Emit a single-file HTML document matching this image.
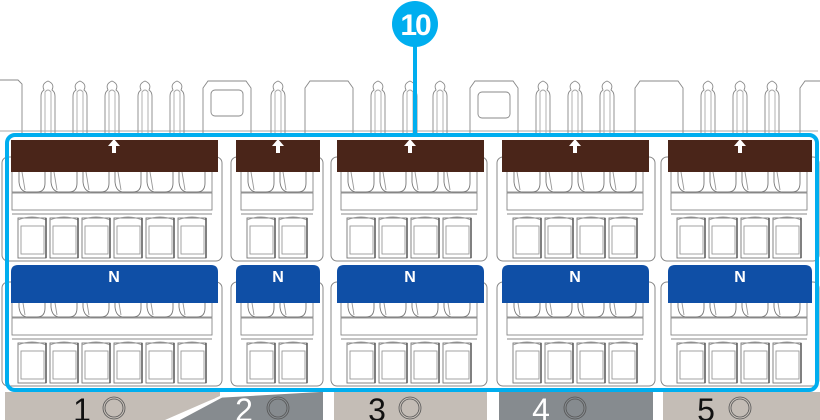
<!DOCTYPE html>
<html><head><meta charset="utf-8"><style>
html,body{margin:0;padding:0;background:#fff;}
svg{display:block}
text{font-family:"Liberation Sans",sans-serif;}
</style></head><body>
<svg width="820" height="420" viewBox="0 0 820 420" xmlns="http://www.w3.org/2000/svg">
<defs>
<g id="col" fill="none" stroke="#777" stroke-width="0.9">
  <path d="M3 24 V42 Q4 52 12 52 H21 Q29 52 29 43 V24"/>
  <path d="M5 26 L9 50" stroke="#999"/>
  <rect x="2" y="78" width="28" height="40" fill="#fff"/>
  <rect x="5" y="86" width="23" height="28" stroke="#999"/>
  <path d="M2 80 Q16 74 30 80" stroke="#999"/>
  <line x1="30" y1="78" x2="30" y2="118" stroke="#555" stroke-width="1.5"/>
</g>
<g id="fin" fill="none" stroke="#888" stroke-width="0.9">
  <path d="M-7 133 V96 Q-7 92 -4 90 Q-7 84 0 81 Q7 84 4 90 Q7 92 7 96 V133"/>
  <path d="M-3 133 V92 Q0 88 3 92 V133" stroke="#aaa"/>
</g>
<path id="arr" d="M0 -7 L-6 0 H-2 V7 H2 V0 H6 Z" fill="#fff"/>
</defs>

<g fill="none" stroke="#888" stroke-width="0.9">
  <path d="M0 80 H18 L22 84 V133"/>
  <line x1="0" y1="131" x2="818" y2="131" stroke="#aaa"/>
  <path d="M203 133 V88 L208 81 H246 L251 88 V133"/>
  <rect x="211" y="90" width="32" height="26" rx="4"/>
  <path d="M305 133 V88 L310 81 H348 L353 88 V133"/>
  <path d="M470 133 V88 L475 81 H513 L518 88 V133"/>
  <rect x="478" y="92" width="32" height="26" rx="4"/>
  <path d="M635 133 V88 L640 81 H678 L683 88 V133"/>
  <path d="M800 133 V88 L805 81 H820"/>
</g>
<use href="#fin" x="48"/><use href="#fin" x="80"/><use href="#fin" x="112"/><use href="#fin" x="145"/><use href="#fin" x="177"/><use href="#fin" x="278"/>
<use href="#fin" x="378"/><use href="#fin" x="410"/><use href="#fin" x="440"/>
<use href="#fin" x="543"/><use href="#fin" x="575"/><use href="#fin" x="607"/>
<use href="#fin" x="708"/><use href="#fin" x="740"/><use href="#fin" x="772"/>

<g id="upper">
  <g fill="#fff" stroke="#888" stroke-width="1">
    <rect x="2" y="157" width="220" height="104" rx="6"/>
    <rect x="231" y="157" width="92" height="104" rx="6"/>
    <rect x="331" y="157" width="156" height="104" rx="6"/>
    <rect x="497" y="157" width="158" height="104" rx="6"/>
    <rect x="661" y="157" width="158" height="104" rx="6"/>
  </g>
  <g fill="#fff" stroke="#888" stroke-width="0.9">
    <rect x="12" y="158" width="200" height="34"/>
    <rect x="12" y="193" width="200" height="17"/><line x1="12" y1="214" x2="212" y2="214"/>
    <rect x="241" y="158" width="72" height="34"/>
    <rect x="241" y="193" width="72" height="17"/><line x1="241" y1="214" x2="313" y2="214"/>
    <rect x="341" y="158" width="136" height="34"/>
    <rect x="341" y="193" width="136" height="17"/><line x1="341" y1="214" x2="477" y2="214"/>
    <rect x="507" y="158" width="136" height="34"/>
    <rect x="507" y="193" width="136" height="17"/><line x1="507" y1="214" x2="643" y2="214"/>
    <rect x="671" y="158" width="136" height="34"/>
    <rect x="671" y="193" width="136" height="17"/><line x1="671" y1="214" x2="807" y2="214"/>
  </g>
  <g transform="translate(16,140)"><use href="#col"/><use href="#col" x="32"/><use href="#col" x="64"/><use href="#col" x="96"/><use href="#col" x="128"/><use href="#col" x="160"/></g>
  <g transform="translate(245,140)"><use href="#col"/><use href="#col" x="32"/></g>
  <g transform="translate(345,140)"><use href="#col"/><use href="#col" x="32"/><use href="#col" x="64"/><use href="#col" x="96"/></g>
  <g transform="translate(511,140)"><use href="#col"/><use href="#col" x="32"/><use href="#col" x="64"/><use href="#col" x="96"/></g>
  <g transform="translate(675,140)"><use href="#col"/><use href="#col" x="32"/><use href="#col" x="64"/><use href="#col" x="96"/></g>
</g>
<use href="#upper" y="125"/>

<g fill="#4a2519">
  <rect x="11" y="140" width="207" height="32"/>
  <rect x="236" y="140" width="84" height="32"/>
  <rect x="337" y="140" width="147" height="32"/>
  <rect x="502" y="140" width="147" height="32"/>
  <rect x="668" y="140" width="144" height="32"/>
</g>
<use href="#arr" x="114" y="146"/><use href="#arr" x="278" y="146"/><use href="#arr" x="410" y="146"/><use href="#arr" x="575" y="146"/><use href="#arr" x="740" y="146"/>

<g fill="#0f4fa6">
  <path d="M11 303 V272 Q11 265 18 265 H211 Q218 265 218 272 V303 Z"/>
  <path d="M236 303 V272 Q236 265 243 265 H313 Q320 265 320 272 V303 Z"/>
  <path d="M337 303 V272 Q337 265 344 265 H477 Q484 265 484 272 V303 Z"/>
  <path d="M502 303 V272 Q502 265 509 265 H642 Q649 265 649 272 V303 Z"/>
  <path d="M668 303 V272 Q668 265 675 265 H805 Q812 265 812 272 V303 Z"/>
</g>
<g fill="#fff" font-weight="bold" font-size="16" text-anchor="middle">
  <text x="114" y="282">N</text><text x="278" y="282">N</text><text x="410" y="282">N</text><text x="575" y="282">N</text><text x="740" y="282">N</text>
</g>

<rect x="5" y="392" width="215" height="28" fill="#c4bdb6"/>
<polygon points="170,420 215,398 320,392 320,420" fill="#868b8f"/>
<polygon points="165,420 220,396 225,396 180,420" fill="#fff"/>
<rect x="320" y="392" width="3" height="28" fill="#868b8f"/>
<rect x="334" y="392" width="153" height="28" fill="#c4bdb6"/>
<rect x="499" y="392" width="154" height="28" fill="#868b8f"/>
<rect x="663" y="392" width="157" height="28" fill="#c4bdb6"/>
<g font-size="32" text-anchor="middle">
  <text x="82" y="421" fill="#111">1</text>
  <text x="244" y="421" fill="#fff">2</text>
  <text x="377" y="421" fill="#111">3</text>
  <text x="541" y="421" fill="#fff">4</text>
  <text x="706" y="421" fill="#111">5</text>
</g>
<g fill="none" stroke="#555" stroke-width="0.8">
  <circle cx="114" cy="408" r="11"/><circle cx="114" cy="408" r="9"/>
  <circle cx="278" cy="408" r="11"/><circle cx="278" cy="408" r="9"/>
  <circle cx="410" cy="408" r="11"/><circle cx="410" cy="408" r="9"/>
  <circle cx="575" cy="408" r="11"/><circle cx="575" cy="408" r="9"/>
  <circle cx="740" cy="408" r="11"/><circle cx="740" cy="408" r="9"/>
</g>

<rect x="7" y="135" width="810" height="255" rx="8" fill="none" stroke="#00aeef" stroke-width="4"/>
<line x1="415" y1="40" x2="415" y2="135" stroke="#00aeef" stroke-width="4"/>
<circle cx="415" cy="24" r="23" fill="#00aeef"/>
<text x="415" y="35" fill="#fff" font-size="30" font-weight="bold" text-anchor="middle" letter-spacing="-2">10</text>
</svg>
</body></html>
